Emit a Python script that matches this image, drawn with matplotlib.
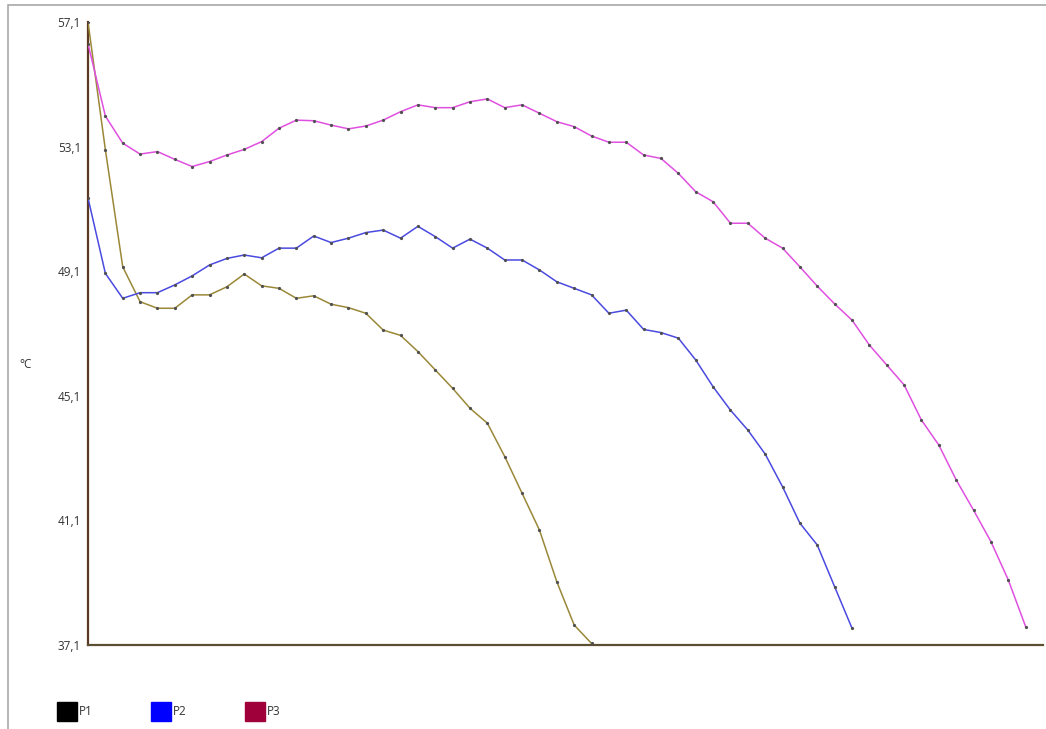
import matplotlib
matplotlib.use("Agg")
import matplotlib.pyplot as plt
from matplotlib.patches import Patch, Rectangle
import numpy as np

# temperature series (deg C), one reading per step
p1 = [57.1, 53.0, 49.24, 48.12, 47.91, 47.91, 48.34, 48.34, 48.60, 49.01,
      48.63, 48.55, 48.23, 48.31, 48.04, 47.93, 47.75, 47.21, 47.04, 46.52,
      45.93, 45.34, 44.70, 44.22, 43.15, 41.97, 40.79, 39.13, 37.74, 37.15]
p2 = [51.45, 49.03, 48.23, 48.41, 48.41, 48.66, 48.95, 49.30, 49.51, 49.62,
      49.53, 49.84, 49.84, 50.23, 50.02, 50.16, 50.34, 50.42, 50.16, 50.54,
      50.21, 49.84, 50.13, 49.84, 49.46, 49.46, 49.14, 48.76, 48.55, 48.34,
      47.75, 47.85, 47.23, 47.13, 46.95, 46.25, 45.39, 44.64, 44.00, 43.23,
      42.18, 41.01, 40.31, 38.97, 37.64]
p3 = [56.4, 54.08, 53.21, 52.86, 52.94, 52.69, 52.46, 52.62, 52.83, 53.01,
      53.26, 53.69, 53.95, 53.93, 53.79, 53.67, 53.76, 53.95, 54.22, 54.44,
      54.35, 54.35, 54.54, 54.63, 54.35, 54.44, 54.17, 53.90, 53.74, 53.44,
      53.24, 53.24, 52.83, 52.72, 52.24, 51.65, 51.33, 50.64, 50.64, 50.16,
      49.84, 49.24, 48.62, 48.05, 47.53, 46.73, 46.09, 45.45, 44.32, 43.52,
      42.40, 41.43, 40.42, 39.19, 37.69]

yticks = [57.1, 53.1, 49.1, 45.1, 41.1, 37.1]
ytick_labels = ["57,1", "53,1", "49,1", "45,1", "41,1", "37,1"]
names = ["P1", "P2", "P3"]
legend_colors = ["#000000", "#0000ff", "#a0003a"]
line_colors = ["#9a8838", "#4a4ae0", "#e050e0"]

plt.rcParams['font.family'] = ['Open Sans', 'DejaVu Sans']

fig = plt.figure(figsize=(10.46, 7.29), dpi=100)
ax = fig.add_axes([88/1046, 1 - 645/729, (1043-88)/1046, (645-22)/729])

for data, c in zip([p1, p2, p3], line_colors):
    ax.plot(np.arange(len(data)), data, color=c, lw=1.1,
            marker='o', markersize=1.3, markerfacecolor='#505050',
            markeredgecolor='#505050', zorder=3)

ax.set_xlim(0, 55)
ax.set_ylim(37.1, 57.1)
ax.set_xticks([])
ax.set_yticks(yticks)
ax.set_yticklabels(ytick_labels, fontsize=8.5, color='#333333')
ax.tick_params(axis='y', length=0, pad=5)
ax.spines['top'].set_visible(False)
ax.spines['right'].set_visible(False)
ax.spines['left'].set_color('#5a3a22')
ax.spines['left'].set_linewidth(1.6)
ax.spines['bottom'].set_color('#5c4e30')
ax.spines['bottom'].set_linewidth(1.6)
ax.set_ylabel("°C", rotation=0, fontsize=8.5, color='#333333')
ax.yaxis.set_label_coords(-0.065, 0.44)

# outer frame
fig.add_artist(Rectangle((8/1046, -0.1), 1.2, 1 - 5/729 + 0.1,
                         transform=fig.transFigure, fill=False,
                         edgecolor='#a8a8a8', lw=1.2))

handles = [Patch(facecolor=c, edgecolor=c) for c in legend_colors]
fig.legend(handles, names, loc='lower left', bbox_to_anchor=(0.044, -0.003),
           ncol=3, frameon=False, fontsize=8.5, handlelength=1.75,
           handleheight=2.0, handletextpad=0.15, columnspacing=4.9,
           labelcolor='#333333')

fig.savefig("out.png", dpi=100)
